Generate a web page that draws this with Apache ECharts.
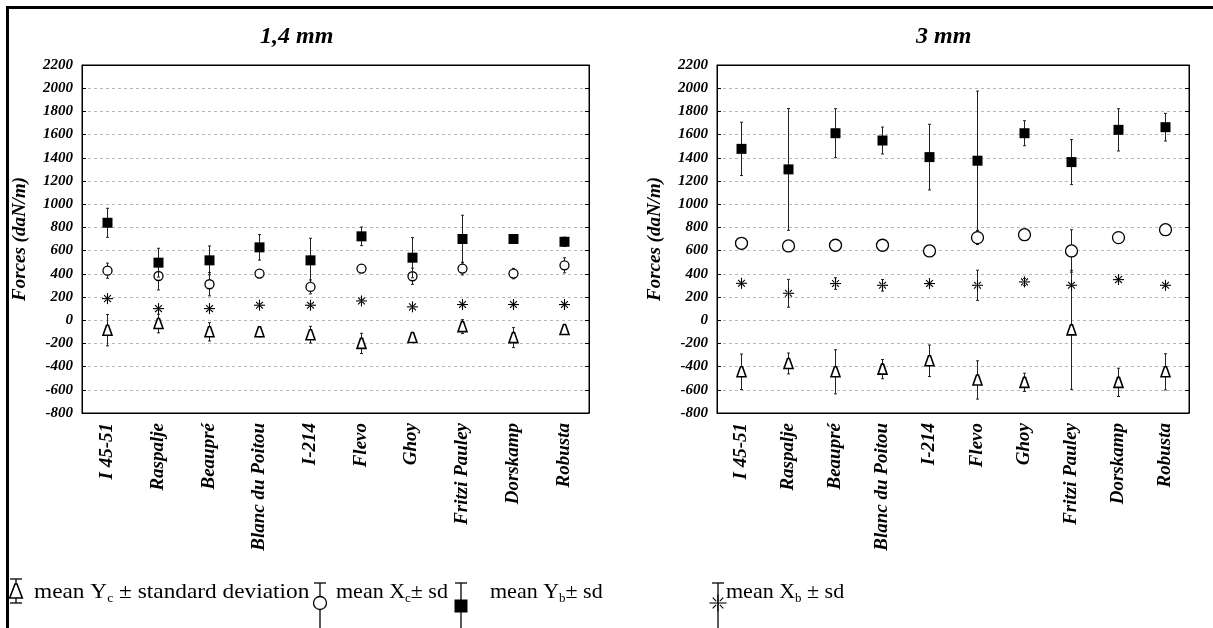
<!DOCTYPE html>
<html>
<head>
<meta charset="utf-8">
<script src="https://cdn.jsdelivr.net/npm/echarts@6/dist/echarts.min.js"></script>
<style>
html,body{margin:0;padding:0;background:#fff;}
#c{width:1213px;height:628px;}
</style>
</head>
<body>
<div id="c"></div>
<script>
// ---------- DATA ----------
const categories = ['I 45-51','Raspalje','Beaupré','Blanc du Poitou','I-214','Flevo','Ghoy','Fritzi Pauley','Dorskamp','Robusta'];
const yTicks = {min: -800, max: 2200, interval: 200};

// 1,4 mm panel
const yb14     = [840, 496, 516, 628, 516, 723, 539, 700, 700, 676];
const yb14Sd   = [125, 124, 124, 110, 190, 80, 173, 205, 10, 40];
const xc14     = [427, 381, 310, 402, 287, 445, 379, 445, 402, 473];
const xc14Sd   = [65, 120, 100, 25, 60, 30, 70, 55, 45, 65];
const xb14     = [186, 100, 100, 129, 129, 166, 115, 135, 135, 135];
const xb14Sd   = [10, 10, 10, 10, 10, 10, 10, 10, 10, 10];
const yc14     = [-86, -29, -100, -100, -125, -200, -149, -55, -150, -80];
const yc14Sd   = [135, 80, 79, 43, 72, 87, 15, 60, 86, 30];

// 3 mm panel
const yb3      = [1477, 1300, 1612, 1549, 1406, 1375, 1612, 1363, 1641, 1664];
const yb3Sd    = [230, 525, 211, 116, 283, 600, 108, 194, 182, 119];
const xc3      = [663, 640, 646, 646, 597, 712, 737, 597, 712, 780];
const xc3Sd    = [10, 10, 10, 10, 10, 60, 10, 183, 10, 10];
const xb3      = [318, 232, 316, 301, 316, 301, 330, 301, 350, 301];
const xb3Sd    = [10, 120, 50, 50, 10, 130, 30, 10, 10, 10];
const yc3      = [-445, -373, -445, -422, -350, -515, -536, -83, -536, -445];
const yc3Sd    = [153, 90, 190, 83, 136, 165, 79, 513, 122, 156];

const panelTitles = ['1,4 mm', '3 mm'];
const yAxisName = 'Forces (daN/m)';

// ---------- RENDERING ----------
const FONT = '"Liberation Serif", "Times New Roman", serif';

function symbolShapes(kind, cx, cy, s) {
  const out = [];
  if (kind === 'square') {
    out.push({type:'rect', shape:{x:cx-s/2, y:cy-s/2, width:s, height:s}, style:{fill:'#000'}});
  } else if (kind === 'circle') {
    out.push({type:'circle', shape:{cx:cx, cy:cy, r:s/2}, style:{fill:'#fff', stroke:'#000', lineWidth:1.3}});
  } else if (kind === 'triangle') {
    const h = s, w = s*0.9;
    out.push({type:'polygon', shape:{points:[[cx-1, cy-h/2],[cx+1, cy-h/2],[cx+w/2, cy+h/2],[cx-w/2, cy+h/2]]},
      style:{fill:'#fff', stroke:'#000', lineWidth:1.6}});
  } else if (kind === 'asterisk') {
    const r = s/2, d = r*0.62;
    const segs = [[0,-r,0,r],[-r,0,r,0],[-d,-d,-d*0.35,-d*0.35],[d*0.35,d*0.35,d,d],[d,-d,d*0.35,-d*0.35],[-d*0.35,d*0.35,-d,d]];
    segs.forEach(g => out.push({type:'line', shape:{x1:cx+g[0], y1:cy+g[1], x2:cx+g[2], y2:cy+g[3]}, style:{stroke:'#000', lineWidth:1.1}}));
  }
  return out;
}

function makeRender(kind, size) {
  return function (params, api) {
    const i = api.value(0), m = api.value(1), sd = api.value(2);
    const c = api.coord([i, m]);
    const hi = api.coord([i, m + sd]);
    const lo = api.coord([i, m - sd]);
    const x = Math.round(c[0]) + 0.5;
    const children = [
      {type:'line', shape:{x1:x, y1:hi[1], x2:x, y2:lo[1]}, style:{stroke:'#222', lineWidth:1}},
      {type:'line', shape:{x1:x-1.5, y1:hi[1], x2:x+1.5, y2:hi[1]}, style:{stroke:'#222', lineWidth:1}},
      {type:'line', shape:{x1:x-1.5, y1:lo[1], x2:x+1.5, y2:lo[1]}, style:{stroke:'#222', lineWidth:1}}
    ];
    return {type:'group', children: children.concat(symbolShapes(kind, x, c[1], size))};
  };
}

function build(mean, sd) { return mean.map((v, i) => [i, v, sd[i]]); }

const grids = [
  {left: 82, top: 65, width: 507, height: 348},
  {left: 717, top: 65, width: 472, height: 348}
];

const xAxes = [], yAxes = [], series = [];
grids.forEach((g, gi) => {
  xAxes.push({
    gridIndex: gi, type: 'category', data: categories, position: 'bottom',
    axisLine: {onZero: false, lineStyle: {color: '#000', width: 1}},
    axisTick: {inside: true, length: 4, alignWithLabel: true, lineStyle: {color: '#000'}},
    axisLabel: {rotate: 90, margin: 10, interval: 0, color: '#000', fontFamily: FONT, fontStyle: 'italic', fontWeight: 'bold', fontSize: 19},
    splitLine: {show: false}
  });
  xAxes.push({
    gridIndex: gi, type: 'category', data: categories, position: 'top',
    axisLine: {onZero: false, lineStyle: {color: '#000', width: 1}},
    axisTick: {inside: true, length: 4, alignWithLabel: true, lineStyle: {color: '#000'}},
    axisLabel: {show: false}, splitLine: {show: false}
  });
  yAxes.push({
    gridIndex: gi, type: 'value', min: yTicks.min, max: yTicks.max, interval: yTicks.interval, position: 'left',
    name: yAxisName, nameLocation: 'middle', nameGap: 52, nameRotate: 90,
    nameTextStyle: {color: '#000', fontFamily: FONT, fontStyle: 'italic', fontWeight: 'bold', fontSize: 19},
    axisLine: {show: true, onZero: false, lineStyle: {color: '#000', width: 1}},
    axisTick: {show: true, inside: true, length: 4, lineStyle: {color: '#000'}},
    axisLabel: {margin: 9, color: '#000', fontFamily: FONT, fontStyle: 'italic', fontWeight: 'bold', fontSize: 15,
      formatter: v => String(v)},
    splitLine: {show: true, lineStyle: {color: '#b8b8b8', type: [3, 3], width: 1}}
  });
  yAxes.push({
    gridIndex: gi, type: 'value', min: yTicks.min, max: yTicks.max, interval: yTicks.interval, position: 'right',
    axisLine: {show: true, onZero: false, lineStyle: {color: '#000', width: 1}},
    axisTick: {show: true, inside: true, length: 4, lineStyle: {color: '#000'}},
    axisLabel: {show: false}, splitLine: {show: false}
  });
});

const panels = [
  {yc: [yc14, yc14Sd], xb: [xb14, xb14Sd], xc: [xc14, xc14Sd], yb: [yb14, yb14Sd], circ: 9},
  {yc: [yc3, yc3Sd],   xb: [xb3, xb3Sd],   xc: [xc3, xc3Sd],   yb: [yb3, yb3Sd],   circ: 12}
];
panels.forEach((p, pi) => {
  const ax = {xAxisIndex: pi*2, yAxisIndex: pi*2};
  series.push(Object.assign({type:'custom', name:'Yc', renderItem: makeRender('triangle', 10), data: build(p.yc[0], p.yc[1])}, ax));
  series.push(Object.assign({type:'custom', name:'Xb', renderItem: makeRender('asterisk', 11), data: build(p.xb[0], p.xb[1])}, ax));
  series.push(Object.assign({type:'custom', name:'Xc', renderItem: makeRender('circle', p.circ), data: build(p.xc[0], p.xc[1])}, ax));
  series.push(Object.assign({type:'custom', name:'Yb', renderItem: makeRender('square', 10), data: build(p.yb[0], p.yb[1])}, ax));
});

// legend (graphic)
const LY = 592;
const rich = {
  n: {fontFamily: FONT, fontSize: 22, lineHeight: 26, color: '#000'},
  s: {fontFamily: FONT, fontSize: 13, lineHeight: 15, verticalAlign: 'bottom', color: '#000'}
};
function legSym(kind, cx, cy, barTop, barBot, size) {
  const ch = [
    {type:'line', shape:{x1:cx, y1:barTop, x2:cx, y2:barBot}, style:{stroke:'#000', lineWidth:1.3}},
    {type:'line', shape:{x1:cx-6, y1:barTop, x2:cx+6, y2:barTop}, style:{stroke:'#000', lineWidth:1.3}}
  ];
  return ch.concat(symbolShapes(kind, cx, cy, size));
}
function legText1(x, str, sx) {
  return {type:'text', x: x, y: LY - 13, scaleX: sx || 1,
    style: {text: str, rich: rich, fontFamily: FONT, fontSize: 22, fill:'#000'}};
}

const graphics = [
  {type:'rect', shape:{x: 7.5, y: 7.5, width: 1400, height: 800}, style:{fill: 'none', stroke: '#000', lineWidth: 3}, silent: true},
  {type:'text', left: 260, top: 25, style:{text: panelTitles[0], fontFamily: FONT, fontStyle:'italic', fontWeight:'bold', fontSize: 24, fill:'#000'}},
  {type:'text', left: 916, top: 25, style:{text: panelTitles[1], fontFamily: FONT, fontStyle:'italic', fontWeight:'bold', fontSize: 24, fill:'#000'}},
  {type:'group', children: legSym('triangle', 16, 591, 579, 603, 14).concat([
    {type:'line', shape:{x1:10, y1:603, x2:22, y2:603}, style:{stroke:'#000', lineWidth:1.3}}])},
  legText1(34, '{n|mean Y}{s|c}{n| ± standard deviation}', 1.06),
  {type:'group', children: legSym('circle', 320, 603, 583, 628, 13)},
  legText1(336, '{n|mean X}{s|c}{n|± sd}'),
  {type:'group', children: legSym('square', 461, 606, 583, 628, 13)},
  legText1(490, '{n|mean Y}{s|b}{n|± sd}'),
  {type:'group', children: legSym('asterisk', 718, 603, 583, 628, 17)},
  legText1(726, '{n|mean X}{s|b}{n| ± sd}')
];

const chart = echarts.init(document.getElementById('c'), null, {renderer: 'canvas'});
chart.setOption({
  backgroundColor: '#fff',
  animation: false,
  grid: grids.map(g => Object.assign({show: true, borderColor: '#000', borderWidth: 1, containLabel: false}, g)),
  xAxis: xAxes,
  yAxis: yAxes,
  series: series,
  graphic: graphics
});
</script>
</body>
</html>
